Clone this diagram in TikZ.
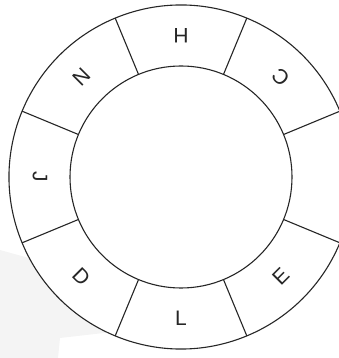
\documentclass[tikz,border=0pt]{standalone}
\usepackage{fontspec}
\setmainfont{Liberation Sans}
\usetikzlibrary{calc}
\begin{document}
\begin{tikzpicture}[x=1pt,y=1pt,
  ring/.style={draw=black!85, line width=1.1pt},
  lbl/.style={font=\fontsize{21}{21}\selectfont, text=black!85, inner sep=0pt}]
\useasboundingbox (0,0) rectangle (339,358);
\coordinate (c) at (181,181);
% faint background sheet
\fill[gray!9] (0,108) -- (130,72) -- (130,28) -- (60,20) -- (58,0) -- (0,0) -- cycle;
\fill[white] (c) circle[radius=172];
% inner circle
\draw[ring] (c) circle[radius=111];
% outer arc (gap on the right)
\draw[ring] ($(c)+(22.5:172)$) arc[start angle=22.5, end angle=337.5, radius=172];
% dividers
\foreach \a [count=\k] in {22.5,67.5,112.5,157.5,202.5,247.5,292.5,337.5}{
  \coordinate (i\k) at ($(c)+(\a:111)$);
  \coordinate (o\k) at ($(c)+(\a:172)$);
  \draw[ring] (i\k) -- (o\k);
}
% labels
\foreach \t/\a in {C/45,H/90,N/135,J/180,D/225,L/270,E/315}{
  \node[lbl, rotate=\a+90] (l\t) at ($(c)+(\a:141)$) {\t};
}
\end{tikzpicture}
\end{document}
